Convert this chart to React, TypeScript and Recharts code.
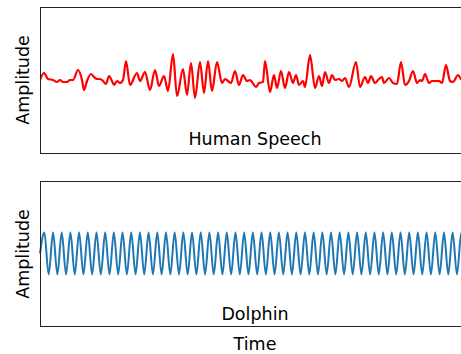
import React from 'react';
import { LineChart, Line, XAxis, YAxis } from 'recharts';

// Human speech waveform: time (arbitrary units) and amplitude
const speechTime = [
  0, 4, 8, 13, 17, 20, 23, 27, 30, 33, 38, 42, 44, 47, 51, 54, 57, 60, 63, 66, 69, 72, 74, 77, 80, 83,
  86, 90, 97, 100, 105, 110, 115, 119, 124, 128, 133, 137, 143, 147, 151, 155, 160, 164, 168, 172, 177,
  182, 185, 188, 191, 195, 199, 203, 207, 210, 212, 216, 219, 223, 225, 230, 234, 237, 241, 245, 249,
  253, 256, 259, 263, 265, 270, 275, 279, 282, 285, 289, 292, 295, 299, 302, 305, 309, 316, 320, 325,
  328, 331, 335, 338, 342, 344, 349, 353, 357, 361, 365, 369, 373, 377, 380, 382, 385, 389, 392, 396,
  399, 402, 406, 410, 413, 418, 421, 425,
];
const speechAmp = [
  0, 7, 1, 0, -2, 0, -2, -2, 0, 0, 10, 0, -10, -1, 6, 3, 1, 1, -1, -4, 4, -1, -5, -1, -3, 0,
  19, -5, 7, -1, 8, -10, 10, -6, 4, -11, 26, -16, 11, -15, 17, -18, 18, -13, 19, -11, 18,
  -3, 1, -1, -3, 9, -5, 5, -1, 0, -2, -7, -3, -2, 19, -12, 5, -8, 9, -8, 8,
  -3, 5, -5, -1, -7, 25, -8, 4, -6, 8, -3, 5, 0, 1, -1, 2, -7, 18, -7, 3,
  -3, 4, -3, 0, 3, -3, 2, -3, -4, 18, -5, -1, 9, -3, 0, -1, 6, -3, -1, -1,
  -1, -3, 15, -1, -2, 5, 1, -2,
];

// Dolphin whistle: successive crests and troughs of the tone (evenly spaced in time)
const dolphinAmp = [
  0, 1, -1, 1, -1, 1, -1, 1, -1, 1, -1, 1, -1, 1, -1, 1, -1, 1, -1, 1, -1,
  1, -1, 1, -1, 1, -1, 1, -1, 1, -1, 1, -1, 1, -1, 1, -1, 1, -1, 1, -1,
  1, -1, 1, -1, 1, -1, 1, -1, 1, -1, 1, -1, 1, -1, 1, -1, 1, -1, 1, -1,
  1, -1, 1, -1, 1, -1, 1, -1, 1, -1, 1, -1, 1, -1, 1, -1, 1, -1, 1, -1,
  1, -1, 1, -1, 1, -1, 1, -1, 1, -1, 1, -1, 1, -1, 1, -1, 1, -1, 1,
];

const titles = { speech: 'Human Speech', dolphin: 'Dolphin', x: 'Time', y: 'Amplitude' };

const speechData = speechTime.map((t, i) => ({ t, v: speechAmp[i] }));
const dolphinData = dolphinAmp.map((v, i) => ({ i, v }));

const FONT = '"DejaVu Sans", sans-serif';
const frame: React.CSSProperties = {
  position: 'absolute', left: 40, width: 440, boxSizing: 'border-box',
  borderTop: '1px solid #222', borderLeft: '1px solid #222', borderBottom: '1px solid #222',
  pointerEvents: 'none',
};

export default function App() {
  return (
    <div style={{ position: 'absolute', left: 0, top: 0, width: 461, height: 354, overflow: 'hidden', background: '#fff' }}>
      <div style={{ position: 'absolute', left: 0, top: 0 }}>
        <LineChart width={470} height={160} data={speechData} margin={{ top: 7, right: 0, bottom: 7, left: 40 }}>
          <XAxis dataKey="t" type="number" domain={[0, 430]} allowDataOverflow hide />
          <YAxis domain={[-73, 73]} allowDataOverflow hide />
          <Line type="monotone" dataKey="v" stroke="#ff0000" strokeWidth={2.2} dot={false} isAnimationActive={false} />
        </LineChart>
      </div>
      <div style={{ position: 'absolute', left: 0, top: 174 }}>
        <LineChart width={470} height={159} data={dolphinData} margin={{ top: 7, right: 0, bottom: 7, left: 40 }}>
          <XAxis dataKey="i" type="category" hide />
          <YAxis domain={[-3.45, 3.45]} allowDataOverflow hide />
          <Line type="monotone" dataKey="v" stroke="#1f77b4" strokeWidth={2} dot={false} isAnimationActive={false} />
        </LineChart>
      </div>
      <div style={{ ...frame, top: 7, height: 147 }} />
      <div style={{ ...frame, top: 181, height: 146 }} />
      <svg width={461} height={354} style={{ position: 'absolute', left: 0, top: 0, pointerEvents: 'none' }}>
        <g fontFamily={FONT} fontSize={17.5} fill="#000">
          <text x={255} y={145} textAnchor="middle">{titles.speech}</text>
          <text x={255} y={320} textAnchor="middle">{titles.dolphin}</text>
          <text x={255} y={350} textAnchor="middle">{titles.x}</text>
          <text x={29} y={80} textAnchor="middle" transform="rotate(-90 29 80)">{titles.y}</text>
          <text x={29} y={254} textAnchor="middle" transform="rotate(-90 29 254)">{titles.y}</text>
        </g>
      </svg>
    </div>
  );
}
